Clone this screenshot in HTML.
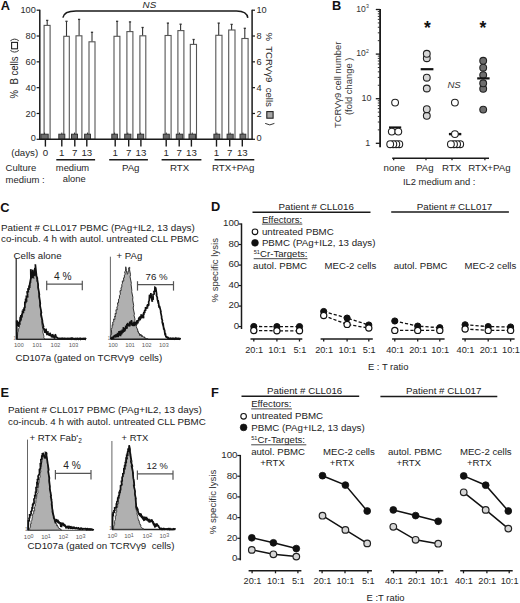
<!DOCTYPE html>
<html><head><meta charset="utf-8"><style>
html,body{margin:0;padding:0;background:#fff;width:520px;height:603px;overflow:hidden}
svg{display:block;font-family:"Liberation Sans",sans-serif}
</style></head><body>
<svg width="520" height="603" viewBox="0 0 520 603">
<rect width="520" height="603" fill="#fff"/>
<text x="0.70" y="10.40" font-size="12.8" font-weight="bold" fill="#111">A</text>
<line x1="39.80" y1="9.70" x2="39.80" y2="140.00" stroke="#1a1a1a" stroke-width="1.5"/>
<line x1="252.10" y1="9.70" x2="252.10" y2="140.00" stroke="#1a1a1a" stroke-width="1.5"/>
<line x1="36.60" y1="10.20" x2="39.80" y2="10.20" stroke="#1a1a1a" stroke-width="1.2"/>
<text x="35.80" y="13.40" font-size="9.2" text-anchor="end" fill="#2a2a2a">100</text>
<line x1="36.60" y1="36.02" x2="39.80" y2="36.02" stroke="#1a1a1a" stroke-width="1.2"/>
<text x="35.80" y="39.22" font-size="9.2" text-anchor="end" fill="#2a2a2a">80</text>
<line x1="36.60" y1="61.84" x2="39.80" y2="61.84" stroke="#1a1a1a" stroke-width="1.2"/>
<text x="35.80" y="65.04" font-size="9.2" text-anchor="end" fill="#2a2a2a">60</text>
<line x1="36.60" y1="87.66" x2="39.80" y2="87.66" stroke="#1a1a1a" stroke-width="1.2"/>
<text x="35.80" y="90.86" font-size="9.2" text-anchor="end" fill="#2a2a2a">40</text>
<line x1="36.60" y1="113.48" x2="39.80" y2="113.48" stroke="#1a1a1a" stroke-width="1.2"/>
<text x="35.80" y="116.68" font-size="9.2" text-anchor="end" fill="#2a2a2a">20</text>
<line x1="36.60" y1="139.30" x2="39.80" y2="139.30" stroke="#1a1a1a" stroke-width="1.2"/>
<text x="35.80" y="140.50" font-size="9.2" text-anchor="end" fill="#2a2a2a">0</text>
<line x1="252.10" y1="10.20" x2="255.00" y2="10.20" stroke="#1a1a1a" stroke-width="1.2"/>
<text x="256.40" y="13.40" font-size="9.2" fill="#2a2a2a">10</text>
<line x1="252.10" y1="36.02" x2="255.00" y2="36.02" stroke="#1a1a1a" stroke-width="1.2"/>
<text x="256.40" y="39.22" font-size="9.2" fill="#2a2a2a">8</text>
<line x1="252.10" y1="61.84" x2="255.00" y2="61.84" stroke="#1a1a1a" stroke-width="1.2"/>
<text x="256.40" y="65.04" font-size="9.2" fill="#2a2a2a">6</text>
<line x1="252.10" y1="87.66" x2="255.00" y2="87.66" stroke="#1a1a1a" stroke-width="1.2"/>
<text x="256.40" y="90.86" font-size="9.2" fill="#2a2a2a">4</text>
<line x1="252.10" y1="113.48" x2="255.00" y2="113.48" stroke="#1a1a1a" stroke-width="1.2"/>
<text x="256.40" y="116.68" font-size="9.2" fill="#2a2a2a">2</text>
<line x1="252.10" y1="139.30" x2="255.00" y2="139.30" stroke="#1a1a1a" stroke-width="1.2"/>
<text x="256.40" y="141.10" font-size="9.2" fill="#2a2a2a">0</text>
<line x1="47.20" y1="20.40" x2="47.20" y2="25.40" stroke="#333" stroke-width="1.1"/>
<line x1="46.10" y1="20.40" x2="48.30" y2="20.40" stroke="#333" stroke-width="1.3"/>
<rect x="44.10" y="25.40" width="6.00" height="113.90" fill="#fff" stroke="#555" stroke-width="1.1"/>
<line x1="66.50" y1="21.30" x2="66.50" y2="36.30" stroke="#333" stroke-width="1.1"/>
<line x1="65.40" y1="21.30" x2="67.60" y2="21.30" stroke="#333" stroke-width="1.3"/>
<rect x="63.80" y="36.30" width="5.50" height="103.00" fill="#fff" stroke="#555" stroke-width="1.1"/>
<line x1="79.10" y1="19.40" x2="79.10" y2="35.80" stroke="#333" stroke-width="1.1"/>
<line x1="78.00" y1="19.40" x2="80.20" y2="19.40" stroke="#333" stroke-width="1.3"/>
<rect x="76.00" y="35.80" width="5.90" height="103.50" fill="#fff" stroke="#555" stroke-width="1.1"/>
<line x1="92.00" y1="32.30" x2="92.00" y2="41.80" stroke="#333" stroke-width="1.1"/>
<line x1="90.90" y1="32.30" x2="93.10" y2="32.30" stroke="#333" stroke-width="1.3"/>
<rect x="89.00" y="41.80" width="6.00" height="97.50" fill="#fff" stroke="#555" stroke-width="1.1"/>
<line x1="117.10" y1="21.30" x2="117.10" y2="36.30" stroke="#333" stroke-width="1.1"/>
<line x1="116.00" y1="21.30" x2="118.20" y2="21.30" stroke="#333" stroke-width="1.3"/>
<rect x="114.00" y="36.30" width="5.90" height="103.00" fill="#fff" stroke="#555" stroke-width="1.1"/>
<line x1="130.00" y1="21.90" x2="130.00" y2="31.60" stroke="#333" stroke-width="1.1"/>
<line x1="128.90" y1="21.90" x2="131.10" y2="21.90" stroke="#333" stroke-width="1.3"/>
<rect x="126.90" y="31.60" width="6.00" height="107.70" fill="#fff" stroke="#555" stroke-width="1.1"/>
<line x1="142.60" y1="27.50" x2="142.60" y2="35.80" stroke="#333" stroke-width="1.1"/>
<line x1="141.50" y1="27.50" x2="143.70" y2="27.50" stroke="#333" stroke-width="1.3"/>
<rect x="139.90" y="35.80" width="5.90" height="103.50" fill="#fff" stroke="#555" stroke-width="1.1"/>
<line x1="167.90" y1="23.10" x2="167.90" y2="35.50" stroke="#333" stroke-width="1.1"/>
<line x1="166.80" y1="23.10" x2="169.00" y2="23.10" stroke="#333" stroke-width="1.3"/>
<rect x="165.10" y="35.50" width="6.00" height="103.80" fill="#fff" stroke="#555" stroke-width="1.1"/>
<line x1="180.60" y1="24.20" x2="180.60" y2="30.60" stroke="#333" stroke-width="1.1"/>
<line x1="179.50" y1="24.20" x2="181.70" y2="24.20" stroke="#333" stroke-width="1.3"/>
<rect x="177.90" y="30.60" width="6.00" height="108.70" fill="#fff" stroke="#555" stroke-width="1.1"/>
<line x1="193.60" y1="39.50" x2="193.60" y2="44.40" stroke="#333" stroke-width="1.1"/>
<line x1="192.50" y1="39.50" x2="194.70" y2="39.50" stroke="#333" stroke-width="1.3"/>
<rect x="190.30" y="44.40" width="6.20" height="94.90" fill="#fff" stroke="#555" stroke-width="1.1"/>
<line x1="218.70" y1="23.10" x2="218.70" y2="35.30" stroke="#333" stroke-width="1.1"/>
<line x1="217.60" y1="23.10" x2="219.80" y2="23.10" stroke="#333" stroke-width="1.3"/>
<rect x="215.80" y="35.30" width="6.20" height="104.00" fill="#fff" stroke="#555" stroke-width="1.1"/>
<line x1="231.60" y1="24.40" x2="231.60" y2="30.00" stroke="#333" stroke-width="1.1"/>
<line x1="230.50" y1="24.40" x2="232.70" y2="24.40" stroke="#333" stroke-width="1.3"/>
<rect x="228.70" y="30.00" width="6.30" height="109.30" fill="#fff" stroke="#555" stroke-width="1.1"/>
<line x1="244.80" y1="28.30" x2="244.80" y2="38.50" stroke="#333" stroke-width="1.1"/>
<line x1="243.70" y1="28.30" x2="245.90" y2="28.30" stroke="#333" stroke-width="1.3"/>
<rect x="241.90" y="38.50" width="6.20" height="100.80" fill="#fff" stroke="#555" stroke-width="1.1"/>
<line x1="44.55" y1="132.60" x2="44.55" y2="134.40" stroke="#333" stroke-width="1"/>
<rect x="40.90" y="134.2" width="7.30" height="5.10" fill="#6d6d6d" stroke="#333" stroke-width="1"/>
<line x1="45.40" y1="139.30" x2="45.40" y2="146.60" stroke="#1a1a1a" stroke-width="1.4"/>
<line x1="61.80" y1="132.60" x2="61.80" y2="134.40" stroke="#333" stroke-width="1"/>
<rect x="58.80" y="134.2" width="6.00" height="5.10" fill="#6d6d6d" stroke="#333" stroke-width="1"/>
<line x1="61.80" y1="139.30" x2="61.80" y2="146.60" stroke="#1a1a1a" stroke-width="1.4"/>
<line x1="74.50" y1="132.60" x2="74.50" y2="134.40" stroke="#333" stroke-width="1"/>
<rect x="71.50" y="134.2" width="6.00" height="5.10" fill="#6d6d6d" stroke="#333" stroke-width="1"/>
<line x1="74.80" y1="139.30" x2="74.80" y2="146.60" stroke="#1a1a1a" stroke-width="1.4"/>
<line x1="87.55" y1="132.60" x2="87.55" y2="134.40" stroke="#333" stroke-width="1"/>
<rect x="84.60" y="134.2" width="5.90" height="5.10" fill="#6d6d6d" stroke="#333" stroke-width="1"/>
<line x1="86.80" y1="139.30" x2="86.80" y2="146.60" stroke="#1a1a1a" stroke-width="1.4"/>
<line x1="114.60" y1="132.60" x2="114.60" y2="134.40" stroke="#333" stroke-width="1"/>
<rect x="111.80" y="134.2" width="5.60" height="5.10" fill="#6d6d6d" stroke="#333" stroke-width="1"/>
<line x1="115.20" y1="139.30" x2="115.20" y2="146.60" stroke="#1a1a1a" stroke-width="1.4"/>
<line x1="127.80" y1="132.60" x2="127.80" y2="134.40" stroke="#333" stroke-width="1"/>
<rect x="124.70" y="134.2" width="6.20" height="5.10" fill="#6d6d6d" stroke="#333" stroke-width="1"/>
<line x1="128.70" y1="139.30" x2="128.70" y2="146.60" stroke="#1a1a1a" stroke-width="1.4"/>
<line x1="140.65" y1="132.60" x2="140.65" y2="134.40" stroke="#333" stroke-width="1"/>
<rect x="137.60" y="134.2" width="6.10" height="5.10" fill="#6d6d6d" stroke="#333" stroke-width="1"/>
<line x1="140.90" y1="139.30" x2="140.90" y2="146.60" stroke="#1a1a1a" stroke-width="1.4"/>
<line x1="166.30" y1="132.60" x2="166.30" y2="134.40" stroke="#333" stroke-width="1"/>
<rect x="163.30" y="134.2" width="6.00" height="5.10" fill="#6d6d6d" stroke="#333" stroke-width="1"/>
<line x1="166.20" y1="139.30" x2="166.20" y2="146.60" stroke="#1a1a1a" stroke-width="1.4"/>
<line x1="179.50" y1="132.60" x2="179.50" y2="134.40" stroke="#333" stroke-width="1"/>
<rect x="176.30" y="134.2" width="6.40" height="5.10" fill="#6d6d6d" stroke="#333" stroke-width="1"/>
<line x1="179.20" y1="139.30" x2="179.20" y2="146.60" stroke="#1a1a1a" stroke-width="1.4"/>
<line x1="192.25" y1="132.60" x2="192.25" y2="134.40" stroke="#333" stroke-width="1"/>
<rect x="189.00" y="134.2" width="6.50" height="5.10" fill="#6d6d6d" stroke="#333" stroke-width="1"/>
<line x1="191.40" y1="139.30" x2="191.40" y2="146.60" stroke="#1a1a1a" stroke-width="1.4"/>
<line x1="216.85" y1="132.60" x2="216.85" y2="134.40" stroke="#333" stroke-width="1"/>
<rect x="213.90" y="134.2" width="5.90" height="5.10" fill="#6d6d6d" stroke="#333" stroke-width="1"/>
<line x1="216.50" y1="139.30" x2="216.50" y2="146.60" stroke="#1a1a1a" stroke-width="1.4"/>
<line x1="230.15" y1="132.60" x2="230.15" y2="134.40" stroke="#333" stroke-width="1"/>
<rect x="227.10" y="134.2" width="6.10" height="5.10" fill="#6d6d6d" stroke="#333" stroke-width="1"/>
<line x1="229.70" y1="139.30" x2="229.70" y2="146.60" stroke="#1a1a1a" stroke-width="1.4"/>
<line x1="242.90" y1="132.60" x2="242.90" y2="134.40" stroke="#333" stroke-width="1"/>
<rect x="240.00" y="134.2" width="5.80" height="5.10" fill="#6d6d6d" stroke="#333" stroke-width="1"/>
<line x1="242.30" y1="139.30" x2="242.30" y2="146.60" stroke="#1a1a1a" stroke-width="1.4"/>
<line x1="39.80" y1="139.30" x2="252.10" y2="139.30" stroke="#1a1a1a" stroke-width="1.6"/>
<path d="M62.9 17.6 C63.5 13.2 67.5 10.9 76 10.9 L236.5 10.9 C243.5 10.9 247.3 13.5 247.8 17.9" fill="none" stroke="#1a1a1a" stroke-width="1.5"/>
<text x="142.60" y="8.30" font-size="9.8" font-style="italic" fill="#222">NS</text>
<text x="11.20" y="155.90" font-size="9.7" fill="#262626">(days)</text>
<text x="45.40" y="155.90" font-size="9.7" text-anchor="middle" fill="#262626">0</text>
<text x="61.80" y="155.90" font-size="9.7" text-anchor="middle" fill="#262626">1</text>
<text x="74.80" y="155.90" font-size="9.7" text-anchor="middle" fill="#262626">7</text>
<text x="86.80" y="155.90" font-size="9.7" text-anchor="middle" fill="#262626">13</text>
<text x="115.20" y="155.90" font-size="9.7" text-anchor="middle" fill="#262626">1</text>
<text x="128.70" y="155.90" font-size="9.7" text-anchor="middle" fill="#262626">7</text>
<text x="140.90" y="155.90" font-size="9.7" text-anchor="middle" fill="#262626">13</text>
<text x="166.20" y="155.90" font-size="9.7" text-anchor="middle" fill="#262626">1</text>
<text x="179.20" y="155.90" font-size="9.7" text-anchor="middle" fill="#262626">7</text>
<text x="191.40" y="155.90" font-size="9.7" text-anchor="middle" fill="#262626">13</text>
<text x="216.50" y="155.90" font-size="9.7" text-anchor="middle" fill="#262626">1</text>
<text x="229.70" y="155.90" font-size="9.7" text-anchor="middle" fill="#262626">7</text>
<text x="242.30" y="155.90" font-size="9.7" text-anchor="middle" fill="#262626">13</text>
<line x1="56.30" y1="159.80" x2="95.10" y2="159.80" stroke="#1a1a1a" stroke-width="1.5"/>
<line x1="109.20" y1="159.80" x2="147.90" y2="159.80" stroke="#1a1a1a" stroke-width="1.5"/>
<line x1="161.60" y1="159.80" x2="201.40" y2="159.80" stroke="#1a1a1a" stroke-width="1.5"/>
<line x1="214.50" y1="159.80" x2="254.30" y2="159.80" stroke="#1a1a1a" stroke-width="1.5"/>
<text x="72.50" y="170.80" font-size="9.4" text-anchor="middle" fill="#262626">medium</text>
<text x="74.30" y="182.40" font-size="9.4" text-anchor="middle" fill="#262626">alone</text>
<text x="130.70" y="170.80" font-size="9.7" text-anchor="middle" fill="#262626">PAg</text>
<text x="179.60" y="170.80" font-size="9.7" text-anchor="middle" fill="#262626">RTX</text>
<text x="233.20" y="170.80" font-size="9.7" text-anchor="middle" fill="#262626">RTX+PAg</text>
<text x="5.60" y="171.20" font-size="9.5" fill="#262626">Culture</text>
<text x="5.60" y="183.00" font-size="9.5" fill="#262626">medium :</text>
<text transform="translate(17.8,98.4) rotate(-90)" font-size="10" textLength="42" lengthAdjust="spacingAndGlyphs" fill="#262626">%&#160;&#160;B cells</text>
<path d="M10.4 50.4 Q14.6 53.8 18.8 50.4" fill="none" stroke="#333" stroke-width="1.0"/>
<path d="M10.4 40.8 Q14.6 37.4 18.8 40.8" fill="none" stroke="#333" stroke-width="1.0"/>
<rect x="11.6" y="42.4" width="5.9" height="6.4" fill="#fff" stroke="#222" stroke-width="1.1"/>
<text transform="translate(265.6,32.4) rotate(90)" font-size="9.6" fill="#262626">%&#160;&#160;TCRV&#947;9&#160;&#160;cells</text>
<rect x="266.8" y="111.6" width="6.3" height="6.6" fill="#a6a6a6" stroke="#222" stroke-width="1.1"/>
<path d="M265.2 123.4 Q269.8 126.4 274.4 123.4" fill="none" stroke="#333" stroke-width="1.0"/>
<text x="332.00" y="10.40" font-size="12.8" font-weight="bold" fill="#111">B</text>
<line x1="380.10" y1="9.00" x2="380.10" y2="147.20" stroke="#1a1a1a" stroke-width="1.8"/>
<line x1="375.80" y1="143.30" x2="380.10" y2="143.30" stroke="#1a1a1a" stroke-width="1.3"/>
<line x1="377.80" y1="129.87" x2="380.10" y2="129.87" stroke="#333" stroke-width="1.0"/>
<line x1="377.80" y1="122.02" x2="380.10" y2="122.02" stroke="#333" stroke-width="1.0"/>
<line x1="377.80" y1="116.45" x2="380.10" y2="116.45" stroke="#333" stroke-width="1.0"/>
<line x1="377.80" y1="112.13" x2="380.10" y2="112.13" stroke="#333" stroke-width="1.0"/>
<line x1="377.80" y1="108.59" x2="380.10" y2="108.59" stroke="#333" stroke-width="1.0"/>
<line x1="377.80" y1="105.61" x2="380.10" y2="105.61" stroke="#333" stroke-width="1.0"/>
<line x1="377.80" y1="103.02" x2="380.10" y2="103.02" stroke="#333" stroke-width="1.0"/>
<line x1="377.80" y1="100.74" x2="380.10" y2="100.74" stroke="#333" stroke-width="1.0"/>
<line x1="375.80" y1="98.70" x2="380.10" y2="98.70" stroke="#1a1a1a" stroke-width="1.3"/>
<line x1="377.80" y1="85.27" x2="380.10" y2="85.27" stroke="#333" stroke-width="1.0"/>
<line x1="377.80" y1="77.42" x2="380.10" y2="77.42" stroke="#333" stroke-width="1.0"/>
<line x1="377.80" y1="71.85" x2="380.10" y2="71.85" stroke="#333" stroke-width="1.0"/>
<line x1="377.80" y1="67.53" x2="380.10" y2="67.53" stroke="#333" stroke-width="1.0"/>
<line x1="377.80" y1="63.99" x2="380.10" y2="63.99" stroke="#333" stroke-width="1.0"/>
<line x1="377.80" y1="61.01" x2="380.10" y2="61.01" stroke="#333" stroke-width="1.0"/>
<line x1="377.80" y1="58.42" x2="380.10" y2="58.42" stroke="#333" stroke-width="1.0"/>
<line x1="377.80" y1="56.14" x2="380.10" y2="56.14" stroke="#333" stroke-width="1.0"/>
<line x1="375.80" y1="54.10" x2="380.10" y2="54.10" stroke="#1a1a1a" stroke-width="1.3"/>
<line x1="377.80" y1="40.67" x2="380.10" y2="40.67" stroke="#333" stroke-width="1.0"/>
<line x1="377.80" y1="32.82" x2="380.10" y2="32.82" stroke="#333" stroke-width="1.0"/>
<line x1="377.80" y1="27.25" x2="380.10" y2="27.25" stroke="#333" stroke-width="1.0"/>
<line x1="377.80" y1="22.93" x2="380.10" y2="22.93" stroke="#333" stroke-width="1.0"/>
<line x1="377.80" y1="19.39" x2="380.10" y2="19.39" stroke="#333" stroke-width="1.0"/>
<line x1="377.80" y1="16.41" x2="380.10" y2="16.41" stroke="#333" stroke-width="1.0"/>
<line x1="377.80" y1="13.82" x2="380.10" y2="13.82" stroke="#333" stroke-width="1.0"/>
<line x1="377.80" y1="11.54" x2="380.10" y2="11.54" stroke="#333" stroke-width="1.0"/>
<line x1="375.80" y1="9.50" x2="380.10" y2="9.50" stroke="#1a1a1a" stroke-width="1.3"/>
<text x="370.20" y="145.70" font-size="9" text-anchor="end" fill="#333">1</text>
<text x="371.40" y="101.10" font-size="9" text-anchor="end" fill="#333">10</text>
<text x="365.80" y="56.30" font-size="8.6" text-anchor="end" fill="#333">10</text>
<text x="365.90" y="52.50" font-size="5.2" fill="#333">2</text>
<text x="365.80" y="11.70" font-size="8.6" text-anchor="end" fill="#333">10</text>
<text x="365.90" y="7.90" font-size="5.2" fill="#333">3</text>
<text transform="translate(341.2,128.0) rotate(-90)" font-size="9.4" fill="#333">TCRV&#947;9 cell number</text>
<text transform="translate(351.6,115.0) rotate(-90)" font-size="9.4" fill="#333">(fold change )</text>
<line x1="392.20" y1="158.20" x2="489.00" y2="158.20" stroke="#1a1a1a" stroke-width="1.6"/>
<line x1="393.70" y1="158.20" x2="393.70" y2="160.30" stroke="#1a1a1a" stroke-width="1.3"/>
<line x1="426.00" y1="158.20" x2="426.00" y2="160.30" stroke="#1a1a1a" stroke-width="1.3"/>
<line x1="452.00" y1="158.20" x2="452.00" y2="160.30" stroke="#1a1a1a" stroke-width="1.3"/>
<line x1="484.90" y1="158.20" x2="484.90" y2="160.30" stroke="#1a1a1a" stroke-width="1.3"/>
<text x="394.40" y="171.20" font-size="9.7" text-anchor="middle" fill="#262626">none</text>
<text x="424.80" y="171.20" font-size="9.7" text-anchor="middle" fill="#262626">PAg</text>
<text x="451.70" y="171.20" font-size="9.7" text-anchor="middle" fill="#262626">RTX</text>
<text x="489.40" y="171.20" font-size="9.7" text-anchor="middle" fill="#262626">RTX+PAg</text>
<text x="439.20" y="184.60" font-size="9.4" text-anchor="middle" fill="#262626">IL2 medium and :</text>
<text x="427.30" y="33.60" font-size="17.5" text-anchor="middle" font-weight="bold" fill="#111">*</text>
<text x="483.00" y="33.60" font-size="17.5" text-anchor="middle" font-weight="bold" fill="#111">*</text>
<text x="454.10" y="88.40" font-size="9.6" text-anchor="middle" font-style="italic" fill="#333">NS</text>
<line x1="389.00" y1="127.40" x2="401.20" y2="127.40" stroke="#111" stroke-width="2.0"/>
<circle cx="399.30" cy="144.20" r="3.4" fill="#fff" stroke="#222" stroke-width="1.1"/>
<circle cx="396.30" cy="144.20" r="3.4" fill="#fff" stroke="#222" stroke-width="1.1"/>
<circle cx="393.30" cy="144.20" r="3.4" fill="#fff" stroke="#222" stroke-width="1.1"/>
<circle cx="390.20" cy="144.20" r="3.4" fill="#fff" stroke="#222" stroke-width="1.1"/>
<circle cx="391.80" cy="131.60" r="3.4" fill="#fff" stroke="#222" stroke-width="1.1"/>
<circle cx="398.30" cy="131.60" r="3.4" fill="#fff" stroke="#222" stroke-width="1.1"/>
<circle cx="395.10" cy="102.60" r="3.4" fill="#fff" stroke="#222" stroke-width="1.1"/>
<circle cx="426.80" cy="115.80" r="3.4" fill="#d6d6d6" stroke="#222" stroke-width="1.1"/>
<circle cx="426.80" cy="109.20" r="3.4" fill="#d6d6d6" stroke="#222" stroke-width="1.1"/>
<circle cx="426.80" cy="88.50" r="3.4" fill="#d6d6d6" stroke="#222" stroke-width="1.1"/>
<circle cx="426.80" cy="77.70" r="3.4" fill="#d6d6d6" stroke="#222" stroke-width="1.1"/>
<circle cx="426.80" cy="58.20" r="3.4" fill="#d6d6d6" stroke="#222" stroke-width="1.1"/>
<circle cx="426.80" cy="53.80" r="3.4" fill="#d6d6d6" stroke="#222" stroke-width="1.1"/>
<line x1="420.70" y1="69.20" x2="433.40" y2="69.20" stroke="#111" stroke-width="2.2"/>
<circle cx="460.20" cy="144.20" r="3.4" fill="#fff" stroke="#222" stroke-width="1.1"/>
<circle cx="457.10" cy="144.20" r="3.4" fill="#fff" stroke="#222" stroke-width="1.1"/>
<circle cx="454.00" cy="144.20" r="3.4" fill="#fff" stroke="#222" stroke-width="1.1"/>
<circle cx="450.90" cy="144.20" r="3.4" fill="#fff" stroke="#222" stroke-width="1.1"/>
<line x1="448.90" y1="134.10" x2="461.30" y2="134.10" stroke="#111" stroke-width="2.4"/>
<circle cx="454.90" cy="134.10" r="3.4" fill="#fff" stroke="#222" stroke-width="1.1"/>
<circle cx="454.90" cy="102.60" r="3.4" fill="#fff" stroke="#222" stroke-width="1.1"/>
<circle cx="483.20" cy="109.60" r="3.4" fill="#6e6e6e" stroke="#222" stroke-width="1.1"/>
<circle cx="483.20" cy="88.80" r="3.4" fill="#6e6e6e" stroke="#222" stroke-width="1.1"/>
<circle cx="483.20" cy="83.30" r="3.4" fill="#6e6e6e" stroke="#222" stroke-width="1.1"/>
<circle cx="483.20" cy="75.10" r="3.4" fill="#6e6e6e" stroke="#222" stroke-width="1.1"/>
<circle cx="483.20" cy="67.70" r="3.4" fill="#6e6e6e" stroke="#222" stroke-width="1.1"/>
<circle cx="483.20" cy="60.80" r="3.4" fill="#6e6e6e" stroke="#222" stroke-width="1.1"/>
<line x1="477.20" y1="78.40" x2="489.60" y2="78.40" stroke="#111" stroke-width="2.2"/>
<text x="0.30" y="212.20" font-size="12.8" font-weight="bold" fill="#111">C</text>
<text x="1.00" y="230.50" font-size="9.86" fill="#222">Patient # CLL017 PBMC (PAg+IL2, 13 days)</text>
<text x="1.00" y="242.10" font-size="9.78" fill="#222">co-incub. 4 h with autol. untreated CLL PBMC</text>
<text x="13.60" y="259.20" font-size="9.7" fill="#222">Cells alone</text>
<text x="116.60" y="259.20" font-size="9.6" fill="#222">+ PAg</text>
<line x1="16.20" y1="258.20" x2="16.20" y2="339.20" stroke="#222" stroke-width="1.2"/>
<line x1="16.20" y1="339.20" x2="86.00" y2="339.20" stroke="#1a1a1a" stroke-width="1.4"/>
<text x="13.60" y="339.70" font-size="4.5" fill="#666">1</text>
<text x="18.80" y="347.40" font-size="6" text-anchor="middle" fill="#5a5a5a">10<tspan font-size="5.4" dy="-0.5">0</tspan></text>
<text x="37.20" y="347.40" font-size="6" text-anchor="middle" fill="#5a5a5a">10<tspan font-size="5.4" dy="-0.5">1</tspan></text>
<text x="55.40" y="347.40" font-size="6" text-anchor="middle" fill="#5a5a5a">10<tspan font-size="5.4" dy="-0.5">2</tspan></text>
<text x="73.50" y="347.40" font-size="6" text-anchor="middle" fill="#5a5a5a">10<tspan font-size="5.4" dy="-0.5">3</tspan></text>
<polygon points="17.27,339.00 17.76,332.42 18.36,331.48 18.32,329.01 19.38,327.85 18.85,325.29 20.15,324.81 19.77,322.46 21.02,321.07 20.37,319.20 21.54,319.31 21.14,315.91 22.18,315.98 22.24,314.00 23.20,313.14 22.95,310.57 24.11,310.79 23.51,307.74 25.02,307.47 24.53,304.60 25.75,304.04 25.59,300.92 26.05,301.27 26.28,297.59 27.27,297.65 27.10,295.36 28.03,294.64 27.28,291.52 28.61,291.11 28.38,289.03 29.03,288.41 28.80,285.46 30.03,285.82 29.77,283.00 31.06,282.74 30.57,279.34 32.09,278.23 31.99,276.42 32.51,276.60 32.96,276.41 33.91,278.67 33.56,275.18 34.91,272.87 34.73,271.33 35.72,272.53 35.64,274.95 36.96,279.34 36.56,280.83 37.98,283.23 37.74,286.36 38.69,291.44 38.74,295.30 39.70,300.62 39.73,304.59 40.82,310.08 40.50,314.89 41.98,320.17 41.79,324.03 42.98,329.14 42.75,331.96 43.96,336.39 43.68,337.19 44.58,339.00" fill="#b0b0b0" stroke="#3a3a3a" stroke-width="0.9"/>
<polyline points="16.89,339.00 16.65,320.48 18.20,323.72 18.00,323.87 18.83,326.75 18.74,322.40 19.71,324.51 19.54,321.32 20.00,320.79 20.27,316.74 20.97,320.57 20.79,315.12 22.01,317.43 21.82,313.68 22.49,314.24 22.44,311.78 23.40,312.09 23.31,309.81 24.42,309.88 24.39,307.67 24.81,307.95 24.85,302.33 25.71,302.29 25.55,298.59 26.61,301.79 26.33,296.47 27.68,296.57 27.03,291.28 28.37,292.29 27.85,288.27 28.99,289.77 29.11,285.84 29.70,287.90 29.68,284.30 30.86,278.13 30.75,269.21 31.52,275.65 31.92,277.35 32.88,277.29 32.74,269.71 33.68,275.19 33.49,275.67 34.79,274.89 34.83,268.40 35.58,268.23 35.32,264.25 36.45,274.94 36.25,275.28 37.60,278.77 37.04,277.75 38.17,284.81 38.09,287.25 39.39,294.58 39.17,295.89 40.28,303.58 40.02,305.53 41.44,312.69 40.99,314.03 42.59,321.59 42.18,321.10 43.56,326.70 43.07,327.14 44.34,330.04 44.00,328.94 45.01,332.84 44.90,329.69 45.63,332.35 45.97,328.71 46.53,333.22 46.89,334.09 47.78,333.47 47.65,331.17 48.50,335.43 48.75,334.83 49.72,335.61 49.94,332.72 50.85,335.52 50.75,334.81 51.60,337.35 51.41,334.80 52.49,337.56 52.50,334.17 53.24,335.79 52.72,335.38 53.76,337.06 53.77,336.93 54.73,338.52 54.45,336.21 55.72,336.54 55.21,334.10 56.14,336.77 55.75,336.45 56.79,337.66 56.85,337.28 57.95,338.21 57.48,337.82 58.54,338.96 58.34,338.22 59.03,338.81 59.07,337.90 59.64,339.00 59.56,338.25 60.36,339.00 60.43,337.90 61.28,339.00 61.22,337.80 61.90,339.00 61.71,337.65 62.60,339.00 62.74,338.23 63.40,339.00 63.24,338.04 63.97,339.00 63.90,338.14 65.03,338.95 64.90,337.98 65.57,339.00 65.56,338.02 66.04,339.00 66.25,338.06 66.73,338.91 67.00,337.99 67.79,339.00 67.58,338.38 68.52,339.00 68.11,338.00 69.02,339.00 68.85,337.98 69.60,339.00 69.78,338.07 70.53,338.90 70.24,338.55 70.93,338.99 71.13,338.51 71.74,339.00 71.61,337.76 72.74,338.67 72.60,337.96 73.38,339.00 73.19,338.54 73.98,338.90 73.99,338.27 74.77,339.00 74.52,338.51 75.45,339.00 75.44,338.08 76.22,338.72 76.16,338.44 76.80,339.00 76.82,338.30 77.39,338.77 77.50,338.58 77.99,338.91 78.05,338.26 78.79,339.00 78.67,338.14 79.38,339.00 79.37,338.08 80.12,339.00 80.34,338.43 80.89,339.00 80.95,338.41 81.51,339.00 81.36,338.58 82.57,339.00 82.14,338.36 83.08,338.90 83.03,338.06 83.94,338.73 83.87,338.60 84.42,338.81 84.41,338.46 84.96,338.86 85.07,337.89 85.69,339.00 85.76,338.24" fill="none" stroke="#111" stroke-width="1.7" stroke-linejoin="miter" stroke-miterlimit="2"/>
<line x1="46.70" y1="284.20" x2="82.30" y2="284.20" stroke="#555" stroke-width="1.2"/>
<line x1="46.70" y1="280.80" x2="46.70" y2="290.20" stroke="#555" stroke-width="1.2"/>
<line x1="82.30" y1="280.80" x2="82.30" y2="290.20" stroke="#555" stroke-width="1.2"/>
<text x="62.80" y="280.40" font-size="10.2" text-anchor="middle" fill="#222">4 %</text>
<line x1="110.40" y1="256.70" x2="110.40" y2="339.20" stroke="#555" stroke-width="0.9"/>
<line x1="110.40" y1="339.20" x2="180.40" y2="339.20" stroke="#1a1a1a" stroke-width="1.4"/>
<text x="107.80" y="339.70" font-size="4.5" fill="#666">1</text>
<text x="113.00" y="347.40" font-size="6" text-anchor="middle" fill="#5a5a5a">10<tspan font-size="5.4" dy="-0.5">0</tspan></text>
<text x="130.00" y="347.40" font-size="6" text-anchor="middle" fill="#5a5a5a">10<tspan font-size="5.4" dy="-0.5">1</tspan></text>
<text x="146.70" y="347.40" font-size="6" text-anchor="middle" fill="#5a5a5a">10<tspan font-size="5.4" dy="-0.5">2</tspan></text>
<text x="163.80" y="347.40" font-size="6" text-anchor="middle" fill="#5a5a5a">10<tspan font-size="5.4" dy="-0.5">3</tspan></text>
<polygon points="110.63,339.00 110.81,335.09 111.69,334.02 111.35,329.32 112.05,327.74 112.24,324.67 113.03,325.22 112.61,322.22 113.83,321.82 113.59,318.97 114.94,319.46 114.76,316.06 115.32,316.94 115.16,313.33 116.21,313.88 115.94,309.77 117.22,309.92 116.90,306.78 117.92,305.89 117.46,302.86 118.53,302.92 118.59,299.06 119.43,298.42 119.49,295.33 120.40,294.30 119.94,290.74 121.26,290.46 120.94,287.72 121.87,287.18 121.83,284.44 122.46,283.33 122.32,280.93 123.79,281.12 123.52,277.84 124.45,277.68 124.36,275.07 125.25,274.16 124.62,271.77 125.55,271.07 125.75,266.77 126.46,270.57 126.20,270.75 127.19,273.57 127.02,274.27 127.84,273.78 128.04,271.12 128.87,271.04 128.64,267.81 129.75,267.28 129.55,269.85 130.50,274.73 130.06,276.79 131.36,283.35 131.02,284.05 131.82,290.22 131.69,291.69 132.87,297.28 132.66,300.06 133.66,305.54 133.16,308.01 134.46,314.23 133.90,315.04 134.93,318.85 134.84,320.58 135.56,323.13 135.30,323.19 136.68,326.10 136.07,326.46 137.58,329.50 137.25,329.14 138.30,331.91 137.72,331.38 139.07,333.36 138.53,332.71 139.79,334.29 139.23,333.77 140.18,335.96 140.11,334.28 141.43,335.17 141.03,334.52 142.06,336.87 141.82,335.18 142.67,336.58 142.56,336.40 143.32,336.86 143.45,336.74 143.95,337.41 144.23,336.72 144.95,338.29 144.68,337.53 145.57,338.59 145.45,338.00 146.25,338.54 146.48,338.54 147.04,339.00 147.10,338.82 147.79,339.00 147.92,338.84" fill="#b0b0b0" stroke="#333" stroke-width="1.0"/>
<polyline points="111.06,339.00 111.14,337.76 112.13,339.00 111.97,336.98 113.04,338.76 112.93,336.75 113.75,338.73 113.35,335.83 114.60,337.25 114.55,335.56 115.17,337.09 114.87,334.75 116.03,337.49 115.91,334.40 116.89,337.23 116.36,335.26 117.32,335.43 117.58,332.91 118.25,337.24 118.34,333.77 119.17,335.46 118.87,331.07 119.76,334.97 119.93,332.32 120.54,336.20 120.55,330.61 121.61,334.73 121.00,331.49 122.13,333.58 122.25,329.48 122.89,333.04 122.81,330.00 123.46,331.46 123.33,327.22 124.63,331.71 124.34,328.74 125.24,330.61 125.15,327.82 126.26,328.98 125.54,325.53 127.09,328.57 126.84,323.84 127.62,326.62 127.54,322.86 128.05,325.86 128.32,323.57 129.17,326.23 128.97,323.76 129.95,326.35 129.75,321.52 130.51,324.33 130.36,323.11 131.12,322.84 131.10,320.93 131.90,325.26 131.37,320.11 132.66,325.87 132.69,323.18 133.30,326.00 133.44,323.05 134.17,326.11 133.89,321.69 134.76,326.05 134.63,322.38 135.73,325.15 135.51,322.43 136.49,323.64 136.29,321.84 136.92,324.45 136.83,320.21 138.05,323.37 137.60,320.08 138.64,321.39 138.75,317.89 139.82,319.88 139.20,316.78 140.24,320.26 140.25,316.09 141.04,318.79 141.10,314.29 141.69,318.27 141.79,314.79 142.48,316.46 142.21,314.64 143.59,318.22 143.38,313.27 144.18,314.66 143.70,311.78 144.77,313.03 144.66,310.03 145.64,310.74 145.47,307.12 146.60,308.95 146.38,306.82 147.42,308.48 147.21,304.83 147.73,307.38 147.58,304.20 148.78,305.59 148.68,301.65 149.23,300.63 149.51,294.87 150.44,297.32 150.06,294.50 150.73,298.10 150.84,293.12 151.54,298.01 151.52,298.12 152.31,301.85 152.27,298.38 153.21,299.86 153.02,294.38 154.25,293.90 153.87,290.90 154.71,291.75 154.94,287.30 155.73,287.68 155.71,287.64 156.77,294.95 156.27,294.64 157.58,298.55 157.12,298.40 158.45,303.92 158.09,300.11 159.28,307.70 158.57,305.12 160.15,308.64 159.49,306.04 160.90,311.65 160.62,311.83 161.67,316.87 161.61,318.04 162.41,320.63 162.19,321.96 163.35,326.42 163.03,322.90 163.81,329.61 163.51,327.12 164.98,331.72 164.41,330.09 165.17,335.29 165.22,332.81 166.04,337.29 166.23,336.62 166.77,337.57 166.80,336.94 167.94,338.43 167.30,336.64 168.12,338.13 168.26,337.60 168.88,339.00 168.70,338.27 169.82,339.00 169.55,337.93 170.52,339.00 170.09,337.67 171.10,339.00 170.91,338.09 172.08,339.00 171.86,337.95 172.85,338.99 172.60,338.66 173.39,339.00 173.17,337.99 174.26,339.00 174.01,338.29 174.45,338.85 174.69,338.59 175.29,339.00 175.03,337.72 175.93,339.00 176.10,338.37 176.80,339.00 176.73,338.20 177.49,339.00 177.35,338.30 178.36,338.97 178.05,337.81 178.73,339.00 178.72,338.31 179.36,339.00 179.66,338.57 180.45,339.00 179.94,338.16" fill="none" stroke="#111" stroke-width="1.7" stroke-linejoin="miter" stroke-miterlimit="2"/>
<line x1="137.50" y1="284.60" x2="173.50" y2="284.60" stroke="#555" stroke-width="1.2"/>
<line x1="137.50" y1="281.20" x2="137.50" y2="290.60" stroke="#555" stroke-width="1.2"/>
<line x1="173.50" y1="281.20" x2="173.50" y2="290.60" stroke="#555" stroke-width="1.2"/>
<text x="156.60" y="280.40" font-size="9.7" text-anchor="middle" fill="#222">76 %</text>
<text x="15.40" y="361.00" font-size="9.74" fill="#222">CD107a (gated on TCRV&#947;9&#160; cells)</text>
<text x="0.50" y="397.40" font-size="12.8" font-weight="bold" fill="#111">E</text>
<text x="8.00" y="413.20" font-size="9.86" fill="#222">Patient # CLL017 PBMC (PAg+IL2, 13 days)</text>
<text x="8.00" y="424.60" font-size="9.78" fill="#222">co-incub. 4 h with autol. untreated CLL PBMC</text>
<text x="29.40" y="440.80" font-size="9.7" fill="#222">+ RTX Fab'<tspan font-size="6.5" dy="2.5">2</tspan></text>
<text x="121.60" y="441.00" font-size="9.4" fill="#222">+ RTX</text>
<line x1="27.50" y1="439.60" x2="27.50" y2="530.40" stroke="#555" stroke-width="0.9"/>
<line x1="27.50" y1="530.40" x2="93.40" y2="530.40" stroke="#666" stroke-width="1.4"/>
<text x="24.90" y="530.90" font-size="4.5" fill="#666">1</text>
<text x="28.70" y="538.60" font-size="6" text-anchor="middle" fill="#5a5a5a">10<tspan font-size="5.4" dy="-0.5">0</tspan></text>
<text x="46.00" y="538.60" font-size="6" text-anchor="middle" fill="#5a5a5a">10<tspan font-size="5.4" dy="-0.5">1</tspan></text>
<text x="63.30" y="538.60" font-size="6" text-anchor="middle" fill="#5a5a5a">10<tspan font-size="5.4" dy="-0.5">2</tspan></text>
<text x="80.60" y="538.60" font-size="6" text-anchor="middle" fill="#5a5a5a">10<tspan font-size="5.4" dy="-0.5">3</tspan></text>
<polygon points="29.67,530.20 29.66,528.21 30.60,527.03 30.44,523.69 31.42,523.52 30.82,521.55 31.89,520.62 32.16,518.01 32.62,516.75 32.49,514.38 33.70,513.93 33.63,510.64 34.70,510.99 34.46,506.89 35.46,506.09 35.17,503.56 35.80,502.84 35.92,499.36 36.64,498.10 36.84,494.52 37.98,492.54 37.65,488.69 38.68,487.13 38.33,484.31 39.08,482.54 39.11,478.38 40.30,476.99 39.55,473.20 40.95,471.88 40.21,467.97 41.61,466.68 41.46,463.37 42.00,461.84 41.93,458.22 42.98,458.29 42.97,454.52 43.65,455.18 43.30,454.51 44.76,456.05 44.54,455.25 45.24,454.85 45.11,451.54 46.21,455.26 46.46,455.88 47.37,460.93 47.28,462.91 48.07,466.03 47.93,468.74 48.72,472.86 48.46,475.22 49.28,479.82 49.01,481.59 49.93,486.53 49.84,487.88 50.69,492.65 50.46,494.55 51.88,499.35 51.39,500.75 52.45,506.42 52.26,508.06 53.35,512.61 53.02,512.98 54.24,517.30 53.85,517.68 54.65,520.82 54.64,520.82 55.79,522.99 55.20,522.74 56.31,523.89 56.40,523.52 57.14,526.18 56.85,524.70 58.09,526.67 57.80,526.46 58.45,527.76 58.38,527.43 59.26,528.81 59.41,528.12 60.12,528.88 60.01,528.65 60.68,529.83 61.03,529.75 61.49,530.20 61.78,530.03" fill="#b0b0b0" stroke="#3a3a3a" stroke-width="0.9"/>
<polyline points="28.24,530.20 28.38,519.89 29.37,521.45 28.92,517.66 29.77,518.28 29.54,514.00 30.59,516.19 30.73,513.69 31.41,514.16 30.89,511.81 31.90,510.60 32.07,508.01 32.63,508.08 32.63,503.99 33.47,505.74 33.02,502.91 34.17,503.57 33.91,499.01 34.89,498.19 34.73,495.65 35.64,495.68 35.49,491.38 36.16,492.86 36.04,487.48 37.02,487.24 36.90,482.88 37.81,483.27 37.31,478.79 38.46,479.98 38.05,476.19 39.49,473.66 39.44,469.39 40.47,468.53 40.29,463.01 41.20,464.28 40.78,458.94 41.66,460.07 41.80,455.32 42.49,457.24 42.33,453.06 43.35,455.20 43.18,452.79 44.25,455.78 43.81,454.91 45.35,458.55 44.95,456.78 46.14,458.05 45.91,452.26 46.61,453.28 46.49,455.18 47.65,463.03 47.64,463.14 48.69,469.79 48.18,471.81 49.40,478.03 49.16,480.06 49.89,486.84 49.78,488.91 51.16,495.75 50.71,496.26 51.83,502.35 51.65,504.14 52.49,510.37 52.44,511.67 53.36,515.61 53.14,513.31 53.92,518.48 53.63,517.18 54.94,519.75 54.44,519.36 55.61,523.34 55.44,520.44 56.25,521.74 56.17,519.44 57.38,520.78 56.94,520.74 58.24,522.72 57.72,519.79 58.97,523.42 58.72,521.25 59.48,523.61 59.52,522.83 60.58,524.34 59.86,522.25 60.94,526.71 61.00,522.71 61.57,527.12 61.61,522.43 62.26,524.86 62.42,523.06 63.42,525.29 62.86,522.86 63.95,526.01 63.70,523.84 64.78,526.49 64.49,524.30 65.75,526.98 65.19,525.50 66.26,528.57 65.95,525.98 66.84,528.08 67.13,525.99 67.60,527.01 67.32,525.80 68.84,528.96 68.08,526.07 69.45,527.42 69.21,526.09 70.16,527.25 69.74,526.38 70.78,528.80 70.60,526.36 71.69,527.82 71.35,527.27 72.67,528.53 72.39,526.59 73.08,529.02 72.85,527.33 74.15,528.47 73.68,526.61 74.67,528.66 74.29,527.58 75.19,528.79 75.16,527.94 75.82,528.89 75.88,527.16 76.99,528.72 76.39,527.54 77.53,529.02 77.44,528.25 78.45,529.27 77.95,527.28 78.71,529.42 78.55,528.34 79.86,529.45 79.41,528.49 80.43,529.32 80.04,527.67 81.11,529.71 80.86,528.26 81.96,528.93 81.21,527.85 82.64,529.60 82.34,528.15 82.89,529.10 83.12,528.44 83.80,529.55 83.37,528.40 84.80,529.08 84.33,528.36 85.55,529.26 84.89,528.20 86.27,529.50 85.97,528.86 86.83,530.20 86.51,528.15 87.21,529.55 87.19,528.22 88.22,530.20 88.02,528.84 89.08,529.75 88.38,528.72 89.80,529.56 89.24,528.53 90.43,530.20 90.37,528.69 91.33,529.28 91.06,529.15 91.60,530.20 91.31,528.88 92.58,529.71 92.19,529.12 93.35,530.20 93.07,529.30" fill="none" stroke="#111" stroke-width="1.7" stroke-linejoin="miter" stroke-miterlimit="2"/>
<line x1="55.40" y1="473.40" x2="91.00" y2="473.40" stroke="#555" stroke-width="1.2"/>
<line x1="55.40" y1="470.00" x2="55.40" y2="479.40" stroke="#555" stroke-width="1.2"/>
<line x1="91.00" y1="470.00" x2="91.00" y2="479.40" stroke="#555" stroke-width="1.2"/>
<text x="72.00" y="469.00" font-size="10.2" text-anchor="middle" fill="#222">4 %</text>
<line x1="111.90" y1="441.00" x2="111.90" y2="529.50" stroke="#555" stroke-width="0.9"/>
<line x1="111.90" y1="529.50" x2="175.20" y2="529.50" stroke="#1a1a1a" stroke-width="1.4"/>
<text x="109.30" y="530.00" font-size="4.5" fill="#666">1</text>
<text x="112.40" y="537.70" font-size="6" text-anchor="middle" fill="#5a5a5a">10<tspan font-size="5.4" dy="-0.5">0</tspan></text>
<text x="129.00" y="537.70" font-size="6" text-anchor="middle" fill="#5a5a5a">10<tspan font-size="5.4" dy="-0.5">1</tspan></text>
<text x="147.40" y="537.70" font-size="6" text-anchor="middle" fill="#5a5a5a">10<tspan font-size="5.4" dy="-0.5">2</tspan></text>
<text x="164.30" y="537.70" font-size="6" text-anchor="middle" fill="#5a5a5a">10<tspan font-size="5.4" dy="-0.5">3</tspan></text>
<polygon points="113.62,529.30 113.77,526.04 114.69,524.35 114.50,521.35 115.50,519.38 115.23,515.92 116.29,515.61 115.75,512.42 116.75,512.19 116.55,508.11 117.62,507.39 117.73,503.91 118.79,503.49 118.15,499.49 119.27,498.45 119.09,495.22 120.16,493.97 119.91,490.59 120.72,489.38 120.61,486.17 121.83,485.67 121.71,481.29 122.58,481.52 122.08,477.80 123.12,477.15 122.97,472.82 124.16,472.29 123.83,468.39 124.82,467.94 124.82,464.09 125.43,463.48 125.33,460.27 126.10,459.68 126.38,456.32 126.87,455.60 126.91,452.71 127.95,451.90 128.00,448.74 128.91,450.14 128.82,447.89 129.95,447.73 129.39,448.02 130.55,451.19 130.43,451.31 130.97,455.24 130.85,457.15 132.11,461.28 131.67,463.63 132.64,468.05 132.68,471.48 133.31,475.88 133.42,478.12 134.40,483.44 133.93,485.64 134.82,491.55 134.92,494.12 135.92,498.75 135.58,502.16 136.33,506.97 136.04,509.36 137.24,512.95 136.86,513.44 137.82,516.61 137.80,517.62 138.68,520.81 138.84,520.37 139.64,522.47 139.09,522.51 140.43,524.64 139.83,524.06 141.17,526.12 140.66,526.45 141.39,527.42 141.41,527.29 142.41,528.32 142.27,528.18 143.00,528.74 143.20,528.51 143.67,529.30 143.85,529.19" fill="#b0b0b0" stroke="#3a3a3a" stroke-width="0.9"/>
<polyline points="112.53,529.30 112.65,513.53 113.34,516.53 113.05,511.94 114.42,512.65 113.76,510.04 114.93,511.15 114.57,507.20 115.37,508.44 115.44,507.04 116.40,507.79 116.33,503.30 116.88,504.90 116.83,501.93 117.64,501.05 117.82,497.28 118.42,498.55 118.55,495.98 119.28,495.17 119.09,491.68 120.09,492.74 119.96,489.61 120.53,490.60 120.53,485.72 121.82,484.70 121.30,480.54 122.21,481.30 122.13,477.19 122.82,476.23 122.85,473.66 123.81,473.52 123.91,468.61 124.92,468.63 124.44,465.30 125.66,466.25 125.24,462.01 126.26,463.38 126.09,457.26 127.14,459.39 126.67,455.30 127.68,455.19 127.70,450.92 128.20,451.81 128.15,448.42 128.99,449.32 129.12,445.29 130.00,449.15 129.79,451.15 130.49,455.77 130.31,455.00 131.16,459.52 130.86,461.66 132.32,465.83 131.62,466.05 133.04,472.73 132.86,472.76 133.34,478.44 133.62,479.50 134.28,485.21 133.76,485.35 135.09,491.29 134.92,493.89 135.96,499.47 135.51,498.17 136.16,505.05 136.02,506.81 137.20,510.02 136.73,506.96 138.00,510.24 137.63,509.08 138.55,513.73 138.53,513.09 139.27,515.05 139.43,513.16 140.02,516.04 140.33,513.31 141.12,517.11 140.98,513.91 141.92,517.79 141.47,515.67 142.55,518.31 142.35,515.85 143.14,519.69 142.90,516.83 144.12,520.89 143.78,518.66 144.79,520.54 144.48,516.56 145.38,519.34 145.19,518.29 146.40,519.37 146.29,516.89 147.06,520.70 146.94,518.29 148.09,519.66 147.42,518.74 148.39,521.39 148.53,519.73 149.41,522.49 148.81,519.00 150.04,522.56 149.62,520.55 150.54,522.23 150.34,519.55 151.28,522.01 151.07,519.32 152.28,521.53 151.95,519.77 153.24,523.71 152.78,521.16 153.78,525.35 153.74,522.90 154.25,524.23 153.98,523.86 155.06,527.45 154.93,525.04 155.91,526.54 155.39,523.56 156.67,526.60 156.58,523.50 157.69,525.75 157.12,524.53 158.04,526.18 157.83,525.11 159.20,527.69 158.46,526.10 159.92,528.47 159.56,528.24 160.44,529.30 160.10,528.00 161.27,529.30 160.84,528.25 161.83,529.30 162.04,528.75 162.62,529.30 162.54,528.58 163.31,529.30 163.34,529.12 164.06,529.30 164.15,528.79 164.82,529.30 164.65,528.89 165.71,529.30 165.47,528.65 166.22,529.30 166.22,528.58 166.85,529.30 166.73,528.91 167.53,529.30 167.61,528.29 168.39,529.30 168.47,528.39 168.86,529.30 169.11,528.88 169.59,529.30 169.81,528.23 170.40,529.30 170.35,528.91 171.19,529.30 171.30,529.25 171.93,529.30 171.98,529.13 172.68,529.26 172.59,528.75 173.42,529.30 173.06,528.47 174.00,529.30 174.03,528.62 174.78,529.30 174.51,528.69 175.59,529.30" fill="none" stroke="#111" stroke-width="1.7" stroke-linejoin="miter" stroke-miterlimit="2"/>
<line x1="137.40" y1="473.80" x2="173.00" y2="473.80" stroke="#555" stroke-width="1.2"/>
<line x1="137.40" y1="470.40" x2="137.40" y2="479.80" stroke="#555" stroke-width="1.2"/>
<line x1="173.00" y1="470.40" x2="173.00" y2="479.80" stroke="#555" stroke-width="1.2"/>
<text x="157.20" y="469.20" font-size="9.4" text-anchor="middle" fill="#222">12 %</text>
<text x="27.60" y="549.40" font-size="9.74" fill="#222">CD107a (gated on TCRV&#947;9&#160; cells)</text>
<text x="210.90" y="211.40" font-size="12.8" font-weight="bold" fill="#111">D</text>
<text x="278.60" y="210.00" font-size="9.74" fill="#222">Patient # CLL016</text>
<line x1="252.50" y1="212.20" x2="370.50" y2="212.20" stroke="#1a1a1a" stroke-width="1.5"/>
<text x="416.80" y="209.80" font-size="9.77" fill="#222">Patient # CLL017</text>
<line x1="391.20" y1="211.90" x2="508.90" y2="211.90" stroke="#1a1a1a" stroke-width="1.5"/>
<text x="261.90" y="222.50" font-size="9.6" fill="#222">Effectors:</text>
<line x1="261.90" y1="224.10" x2="302.30" y2="224.10" stroke="#333" stroke-width="0.9"/>
<circle cx="255.00" cy="231.80" r="2.8" fill="#fff" stroke="#111" stroke-width="1.1"/>
<text x="261.90" y="234.70" font-size="9.73" fill="#222">untreated PBMC</text>
<circle cx="255.00" cy="242.80" r="3.4" fill="#111" stroke="#111" stroke-width="0.6"/>
<text x="261.90" y="246.20" font-size="9.73" fill="#222">PBMC (PAg+IL2, 13 days)</text>
<text x="253.70" y="253.60" font-size="5.6" fill="#222">51</text>
<text x="260.10" y="257.20" font-size="9.6" fill="#222">Cr-Targets:</text>
<line x1="253.70" y1="258.70" x2="307.50" y2="258.70" stroke="#333" stroke-width="0.9"/>
<text x="253.10" y="268.80" font-size="9.6" fill="#222">autol. PBMC</text>
<text x="324.60" y="268.80" font-size="9.6" fill="#222">MEC-2 cells</text>
<text x="393.70" y="268.80" font-size="9.6" fill="#222">autol. PBMC</text>
<text x="464.60" y="268.80" font-size="9.6" fill="#222">MEC-2 cells</text>
<line x1="241.50" y1="223.40" x2="241.50" y2="329.00" stroke="#1a1a1a" stroke-width="1.5"/>
<line x1="238.50" y1="224.00" x2="241.50" y2="224.00" stroke="#1a1a1a" stroke-width="1.2"/>
<text x="239.20" y="226.40" font-size="9.7" text-anchor="end" fill="#2a2a2a">100</text>
<line x1="238.50" y1="244.52" x2="241.50" y2="244.52" stroke="#1a1a1a" stroke-width="1.2"/>
<text x="239.20" y="246.92" font-size="9.7" text-anchor="end" fill="#2a2a2a">80</text>
<line x1="238.50" y1="265.04" x2="241.50" y2="265.04" stroke="#1a1a1a" stroke-width="1.2"/>
<text x="239.20" y="267.44" font-size="9.7" text-anchor="end" fill="#2a2a2a">60</text>
<line x1="238.50" y1="285.56" x2="241.50" y2="285.56" stroke="#1a1a1a" stroke-width="1.2"/>
<text x="239.20" y="287.96" font-size="9.7" text-anchor="end" fill="#2a2a2a">40</text>
<line x1="238.50" y1="306.08" x2="241.50" y2="306.08" stroke="#1a1a1a" stroke-width="1.2"/>
<text x="239.20" y="308.48" font-size="9.7" text-anchor="end" fill="#2a2a2a">20</text>
<line x1="238.50" y1="326.60" x2="241.50" y2="326.60" stroke="#1a1a1a" stroke-width="1.2"/>
<text x="239.20" y="328.60" font-size="9.7" text-anchor="end" fill="#2a2a2a">0</text>
<text transform="translate(218.40,270.30) rotate(-90)" font-size="9.6" text-anchor="middle" fill="#333">% specific lysis</text>
<line x1="250.50" y1="339.00" x2="302.30" y2="339.00" stroke="#1a1a1a" stroke-width="1.6"/>
<line x1="253.80" y1="339.00" x2="253.80" y2="341.50" stroke="#1a1a1a" stroke-width="1.3"/>
<line x1="276.90" y1="339.00" x2="276.90" y2="341.50" stroke="#1a1a1a" stroke-width="1.3"/>
<line x1="299.50" y1="339.00" x2="299.50" y2="341.50" stroke="#1a1a1a" stroke-width="1.3"/>
<text x="254.20" y="353.40" font-size="9.2" text-anchor="middle" fill="#262626">20:1</text>
<text x="277.30" y="353.40" font-size="9.2" text-anchor="middle" fill="#262626">10:1</text>
<text x="299.90" y="353.40" font-size="9.2" text-anchor="middle" fill="#262626">5:1</text>
<polyline points="253.80,326.50 276.90,326.60 299.50,326.60" fill="none" stroke="#111" stroke-width="1.3" stroke-dasharray="3.2,2"/>
<polyline points="253.80,330.50 276.90,330.80 299.50,330.80" fill="none" stroke="#111" stroke-width="1.3" stroke-dasharray="3.2,2"/>
<circle cx="253.80" cy="326.50" r="3.1" fill="#111" stroke="#111" stroke-width="1.0"/>
<circle cx="276.90" cy="326.60" r="3.1" fill="#111" stroke="#111" stroke-width="1.0"/>
<circle cx="299.50" cy="326.60" r="3.1" fill="#111" stroke="#111" stroke-width="1.0"/>
<circle cx="253.80" cy="330.50" r="3.1" fill="#fff" stroke="#111" stroke-width="1.2"/>
<circle cx="276.90" cy="330.80" r="3.1" fill="#fff" stroke="#111" stroke-width="1.2"/>
<circle cx="299.50" cy="330.80" r="3.1" fill="#fff" stroke="#111" stroke-width="1.2"/>
<line x1="320.60" y1="339.00" x2="372.80" y2="339.00" stroke="#1a1a1a" stroke-width="1.6"/>
<line x1="323.70" y1="339.00" x2="323.70" y2="341.50" stroke="#1a1a1a" stroke-width="1.3"/>
<line x1="347.10" y1="339.00" x2="347.10" y2="341.50" stroke="#1a1a1a" stroke-width="1.3"/>
<line x1="368.80" y1="339.00" x2="368.80" y2="341.50" stroke="#1a1a1a" stroke-width="1.3"/>
<text x="324.10" y="353.40" font-size="9.2" text-anchor="middle" fill="#262626">20:1</text>
<text x="347.50" y="353.40" font-size="9.2" text-anchor="middle" fill="#262626">10:1</text>
<text x="369.20" y="353.40" font-size="9.2" text-anchor="middle" fill="#262626">5:1</text>
<polyline points="323.70,311.50 347.10,318.10 368.80,325.00" fill="none" stroke="#111" stroke-width="1.3" stroke-dasharray="3.2,2"/>
<polyline points="323.70,315.60 347.10,324.40 368.80,328.10" fill="none" stroke="#111" stroke-width="1.3" stroke-dasharray="3.2,2"/>
<circle cx="323.70" cy="311.50" r="3.1" fill="#111" stroke="#111" stroke-width="1.0"/>
<circle cx="347.10" cy="318.10" r="3.1" fill="#111" stroke="#111" stroke-width="1.0"/>
<circle cx="368.80" cy="325.00" r="3.1" fill="#111" stroke="#111" stroke-width="1.0"/>
<circle cx="323.70" cy="315.60" r="3.1" fill="#fff" stroke="#111" stroke-width="1.2"/>
<circle cx="347.10" cy="324.40" r="3.1" fill="#fff" stroke="#111" stroke-width="1.2"/>
<circle cx="368.80" cy="328.10" r="3.1" fill="#fff" stroke="#111" stroke-width="1.2"/>
<line x1="392.10" y1="339.00" x2="444.60" y2="339.00" stroke="#1a1a1a" stroke-width="1.6"/>
<line x1="394.80" y1="339.00" x2="394.80" y2="341.50" stroke="#1a1a1a" stroke-width="1.3"/>
<line x1="417.70" y1="339.00" x2="417.70" y2="341.50" stroke="#1a1a1a" stroke-width="1.3"/>
<line x1="439.80" y1="339.00" x2="439.80" y2="341.50" stroke="#1a1a1a" stroke-width="1.3"/>
<text x="395.20" y="353.40" font-size="9.2" text-anchor="middle" fill="#262626">40:1</text>
<text x="418.10" y="353.40" font-size="9.2" text-anchor="middle" fill="#262626">20:1</text>
<text x="440.20" y="353.40" font-size="9.2" text-anchor="middle" fill="#262626">10:1</text>
<polyline points="394.80,321.00 417.70,326.10 439.80,327.70" fill="none" stroke="#111" stroke-width="1.3" stroke-dasharray="3.2,2"/>
<polyline points="394.80,330.40 417.70,330.40 439.80,330.40" fill="none" stroke="#111" stroke-width="1.3" stroke-dasharray="3.2,2"/>
<circle cx="394.80" cy="321.00" r="3.1" fill="#111" stroke="#111" stroke-width="1.0"/>
<circle cx="417.70" cy="326.10" r="3.1" fill="#111" stroke="#111" stroke-width="1.0"/>
<circle cx="439.80" cy="327.70" r="3.1" fill="#111" stroke="#111" stroke-width="1.0"/>
<circle cx="394.80" cy="330.40" r="3.1" fill="#fff" stroke="#111" stroke-width="1.2"/>
<circle cx="417.70" cy="330.40" r="3.1" fill="#fff" stroke="#111" stroke-width="1.2"/>
<circle cx="439.80" cy="330.40" r="3.1" fill="#fff" stroke="#111" stroke-width="1.2"/>
<line x1="462.10" y1="339.00" x2="514.60" y2="339.00" stroke="#1a1a1a" stroke-width="1.6"/>
<line x1="465.10" y1="339.00" x2="465.10" y2="341.50" stroke="#1a1a1a" stroke-width="1.3"/>
<line x1="488.20" y1="339.00" x2="488.20" y2="341.50" stroke="#1a1a1a" stroke-width="1.3"/>
<line x1="510.60" y1="339.00" x2="510.60" y2="341.50" stroke="#1a1a1a" stroke-width="1.3"/>
<text x="465.50" y="353.40" font-size="9.2" text-anchor="middle" fill="#262626">40:1</text>
<text x="488.60" y="353.40" font-size="9.2" text-anchor="middle" fill="#262626">20:1</text>
<text x="511.00" y="353.40" font-size="9.2" text-anchor="middle" fill="#262626">10:1</text>
<polyline points="465.10,324.80 488.20,326.60 510.60,327.00" fill="none" stroke="#111" stroke-width="1.3" stroke-dasharray="3.2,2"/>
<polyline points="465.10,329.00 488.20,330.40 510.60,330.40" fill="none" stroke="#111" stroke-width="1.3" stroke-dasharray="3.2,2"/>
<circle cx="465.10" cy="324.80" r="3.1" fill="#111" stroke="#111" stroke-width="1.0"/>
<circle cx="488.20" cy="326.60" r="3.1" fill="#111" stroke="#111" stroke-width="1.0"/>
<circle cx="510.60" cy="327.00" r="3.1" fill="#111" stroke="#111" stroke-width="1.0"/>
<circle cx="465.10" cy="329.00" r="3.1" fill="#fff" stroke="#111" stroke-width="1.2"/>
<circle cx="488.20" cy="330.40" r="3.1" fill="#fff" stroke="#111" stroke-width="1.2"/>
<circle cx="510.60" cy="330.40" r="3.1" fill="#fff" stroke="#111" stroke-width="1.2"/>
<text x="388.20" y="369.60" font-size="9.42" text-anchor="middle" fill="#222">E : T ratio</text>
<text x="210.90" y="397.00" font-size="12.8" font-weight="bold" fill="#111">F</text>
<text x="267.00" y="394.30" font-size="9.74" fill="#222">Patient # CLL016</text>
<line x1="241.50" y1="396.30" x2="359.20" y2="396.30" stroke="#1a1a1a" stroke-width="1.5"/>
<text x="406.00" y="394.30" font-size="9.77" fill="#222">Patient # CLL017</text>
<line x1="380.40" y1="396.40" x2="497.30" y2="396.40" stroke="#1a1a1a" stroke-width="1.5"/>
<text x="251.20" y="407.30" font-size="9.6" fill="#222">Effectors:</text>
<line x1="251.20" y1="408.90" x2="291.90" y2="408.90" stroke="#333" stroke-width="0.9"/>
<circle cx="243.60" cy="416.30" r="2.8" fill="#fff" stroke="#111" stroke-width="1.1"/>
<text x="251.20" y="419.20" font-size="9.73" fill="#222">untreated PBMC</text>
<circle cx="243.60" cy="427.40" r="3.4" fill="#111" stroke="#111" stroke-width="0.6"/>
<text x="251.20" y="430.80" font-size="9.73" fill="#222">PBMC (PAg+IL2, 13 days)</text>
<text x="251.20" y="439.70" font-size="5.6" fill="#222">51</text>
<text x="257.60" y="443.30" font-size="9.6" fill="#222">Cr-Targets:</text>
<line x1="251.20" y1="444.80" x2="306.30" y2="444.80" stroke="#333" stroke-width="0.9"/>
<text x="251.20" y="455.20" font-size="9.6" fill="#222">autol. PBMC</text>
<text x="323.10" y="455.20" font-size="9.6" fill="#222">MEC-2 cells</text>
<text x="388.00" y="455.20" font-size="9.6" fill="#222">autol. PBMC</text>
<text x="459.90" y="455.20" font-size="9.6" fill="#222">MEC-2 cells</text>
<text x="260.20" y="466.40" font-size="9.6" fill="#222">+RTX</text>
<text x="329.80" y="466.40" font-size="9.6" fill="#222">+RTX</text>
<text x="396.40" y="466.40" font-size="9.6" fill="#222">+RTX</text>
<text x="467.00" y="466.40" font-size="9.6" fill="#222">+RTX</text>
<line x1="240.30" y1="454.90" x2="240.30" y2="560.30" stroke="#1a1a1a" stroke-width="1.5"/>
<line x1="237.30" y1="455.50" x2="240.30" y2="455.50" stroke="#1a1a1a" stroke-width="1.2"/>
<text x="237.50" y="457.90" font-size="9.7" text-anchor="end" fill="#2a2a2a">100</text>
<line x1="237.30" y1="476.20" x2="240.30" y2="476.20" stroke="#1a1a1a" stroke-width="1.2"/>
<text x="237.50" y="478.60" font-size="9.7" text-anchor="end" fill="#2a2a2a">80</text>
<line x1="237.30" y1="496.90" x2="240.30" y2="496.90" stroke="#1a1a1a" stroke-width="1.2"/>
<text x="237.50" y="499.30" font-size="9.7" text-anchor="end" fill="#2a2a2a">60</text>
<line x1="237.30" y1="517.60" x2="240.30" y2="517.60" stroke="#1a1a1a" stroke-width="1.2"/>
<text x="237.50" y="520.00" font-size="9.7" text-anchor="end" fill="#2a2a2a">40</text>
<line x1="237.30" y1="538.30" x2="240.30" y2="538.30" stroke="#1a1a1a" stroke-width="1.2"/>
<text x="237.50" y="540.70" font-size="9.7" text-anchor="end" fill="#2a2a2a">20</text>
<line x1="237.30" y1="559.00" x2="240.30" y2="559.00" stroke="#1a1a1a" stroke-width="1.2"/>
<text x="237.50" y="561.00" font-size="9.7" text-anchor="end" fill="#2a2a2a">0</text>
<text transform="translate(216.20,502.00) rotate(-90)" font-size="9.6" text-anchor="middle" fill="#333">% specific lysis</text>
<line x1="248.60" y1="570.80" x2="301.40" y2="570.80" stroke="#1a1a1a" stroke-width="1.6"/>
<line x1="252.10" y1="570.80" x2="252.10" y2="573.30" stroke="#1a1a1a" stroke-width="1.3"/>
<line x1="275.50" y1="570.80" x2="275.50" y2="573.30" stroke="#1a1a1a" stroke-width="1.3"/>
<line x1="297.90" y1="570.80" x2="297.90" y2="573.30" stroke="#1a1a1a" stroke-width="1.3"/>
<text x="252.50" y="584.40" font-size="9.2" text-anchor="middle" fill="#262626">20:1</text>
<text x="275.90" y="584.40" font-size="9.2" text-anchor="middle" fill="#262626">10:1</text>
<text x="298.30" y="584.40" font-size="9.2" text-anchor="middle" fill="#262626">5:1</text>
<polyline points="251.80,537.80 273.40,542.80 296.30,548.60" fill="none" stroke="#111" stroke-width="1.5"/>
<polyline points="251.80,549.90 273.40,554.30 296.30,556.60" fill="none" stroke="#111" stroke-width="1.5"/>
<circle cx="251.80" cy="537.80" r="3.4" fill="#111" stroke="#111" stroke-width="0.8"/>
<circle cx="273.40" cy="542.80" r="3.4" fill="#111" stroke="#111" stroke-width="0.8"/>
<circle cx="296.30" cy="548.60" r="3.4" fill="#111" stroke="#111" stroke-width="0.8"/>
<circle cx="251.80" cy="549.90" r="3.3" fill="#d6d6d6" stroke="#222" stroke-width="1.2"/>
<circle cx="273.40" cy="554.30" r="3.3" fill="#d6d6d6" stroke="#222" stroke-width="1.2"/>
<circle cx="296.30" cy="556.60" r="3.3" fill="#d6d6d6" stroke="#222" stroke-width="1.2"/>
<line x1="318.90" y1="570.80" x2="371.90" y2="570.80" stroke="#1a1a1a" stroke-width="1.6"/>
<line x1="322.10" y1="570.80" x2="322.10" y2="573.30" stroke="#1a1a1a" stroke-width="1.3"/>
<line x1="345.00" y1="570.80" x2="345.00" y2="573.30" stroke="#1a1a1a" stroke-width="1.3"/>
<line x1="367.90" y1="570.80" x2="367.90" y2="573.30" stroke="#1a1a1a" stroke-width="1.3"/>
<text x="322.50" y="584.40" font-size="9.2" text-anchor="middle" fill="#262626">20:1</text>
<text x="345.40" y="584.40" font-size="9.2" text-anchor="middle" fill="#262626">10:1</text>
<text x="368.30" y="584.40" font-size="9.2" text-anchor="middle" fill="#262626">5:1</text>
<polyline points="322.50,475.70 345.40,485.10 367.20,511.00" fill="none" stroke="#111" stroke-width="1.5"/>
<polyline points="322.50,515.70 345.40,529.90 367.20,543.40" fill="none" stroke="#111" stroke-width="1.5"/>
<circle cx="322.50" cy="475.70" r="3.4" fill="#111" stroke="#111" stroke-width="0.8"/>
<circle cx="345.40" cy="485.10" r="3.4" fill="#111" stroke="#111" stroke-width="0.8"/>
<circle cx="367.20" cy="511.00" r="3.4" fill="#111" stroke="#111" stroke-width="0.8"/>
<circle cx="322.50" cy="515.70" r="3.3" fill="#d6d6d6" stroke="#222" stroke-width="1.2"/>
<circle cx="345.40" cy="529.90" r="3.3" fill="#d6d6d6" stroke="#222" stroke-width="1.2"/>
<circle cx="367.20" cy="543.40" r="3.3" fill="#d6d6d6" stroke="#222" stroke-width="1.2"/>
<line x1="390.80" y1="570.80" x2="443.30" y2="570.80" stroke="#1a1a1a" stroke-width="1.6"/>
<line x1="393.50" y1="570.80" x2="393.50" y2="573.30" stroke="#1a1a1a" stroke-width="1.3"/>
<line x1="416.30" y1="570.80" x2="416.30" y2="573.30" stroke="#1a1a1a" stroke-width="1.3"/>
<line x1="438.70" y1="570.80" x2="438.70" y2="573.30" stroke="#1a1a1a" stroke-width="1.3"/>
<text x="393.90" y="584.40" font-size="9.2" text-anchor="middle" fill="#262626">40:1</text>
<text x="416.70" y="584.40" font-size="9.2" text-anchor="middle" fill="#262626">20:1</text>
<text x="439.10" y="584.40" font-size="9.2" text-anchor="middle" fill="#262626">10:1</text>
<polyline points="393.30,509.90 415.60,515.60 438.20,521.30" fill="none" stroke="#111" stroke-width="1.5"/>
<polyline points="393.30,526.80 415.60,539.80 438.20,543.70" fill="none" stroke="#111" stroke-width="1.5"/>
<circle cx="393.30" cy="509.90" r="3.4" fill="#111" stroke="#111" stroke-width="0.8"/>
<circle cx="415.60" cy="515.60" r="3.4" fill="#111" stroke="#111" stroke-width="0.8"/>
<circle cx="438.20" cy="521.30" r="3.4" fill="#111" stroke="#111" stroke-width="0.8"/>
<circle cx="393.30" cy="526.80" r="3.3" fill="#d6d6d6" stroke="#222" stroke-width="1.2"/>
<circle cx="415.60" cy="539.80" r="3.3" fill="#d6d6d6" stroke="#222" stroke-width="1.2"/>
<circle cx="438.20" cy="543.70" r="3.3" fill="#d6d6d6" stroke="#222" stroke-width="1.2"/>
<line x1="460.20" y1="570.80" x2="512.70" y2="570.80" stroke="#1a1a1a" stroke-width="1.6"/>
<line x1="463.50" y1="570.80" x2="463.50" y2="573.30" stroke="#1a1a1a" stroke-width="1.3"/>
<line x1="486.90" y1="570.80" x2="486.90" y2="573.30" stroke="#1a1a1a" stroke-width="1.3"/>
<line x1="509.20" y1="570.80" x2="509.20" y2="573.30" stroke="#1a1a1a" stroke-width="1.3"/>
<text x="463.90" y="584.40" font-size="9.2" text-anchor="middle" fill="#262626">40:1</text>
<text x="487.30" y="584.40" font-size="9.2" text-anchor="middle" fill="#262626">20:1</text>
<text x="509.60" y="584.40" font-size="9.2" text-anchor="middle" fill="#262626">10:1</text>
<polyline points="463.70,475.90 485.70,485.20 508.30,511.00" fill="none" stroke="#111" stroke-width="1.5"/>
<polyline points="463.70,492.30 485.70,509.90 508.30,528.60" fill="none" stroke="#111" stroke-width="1.5"/>
<circle cx="463.70" cy="475.90" r="3.4" fill="#111" stroke="#111" stroke-width="0.8"/>
<circle cx="485.70" cy="485.20" r="3.4" fill="#111" stroke="#111" stroke-width="0.8"/>
<circle cx="508.30" cy="511.00" r="3.4" fill="#111" stroke="#111" stroke-width="0.8"/>
<circle cx="463.70" cy="492.30" r="3.3" fill="#d6d6d6" stroke="#222" stroke-width="1.2"/>
<circle cx="485.70" cy="509.90" r="3.3" fill="#d6d6d6" stroke="#222" stroke-width="1.2"/>
<circle cx="508.30" cy="528.60" r="3.3" fill="#d6d6d6" stroke="#222" stroke-width="1.2"/>
<text x="385.60" y="601.00" font-size="9.42" text-anchor="middle" fill="#222">E :T ratio</text>
</svg>
</body></html>
